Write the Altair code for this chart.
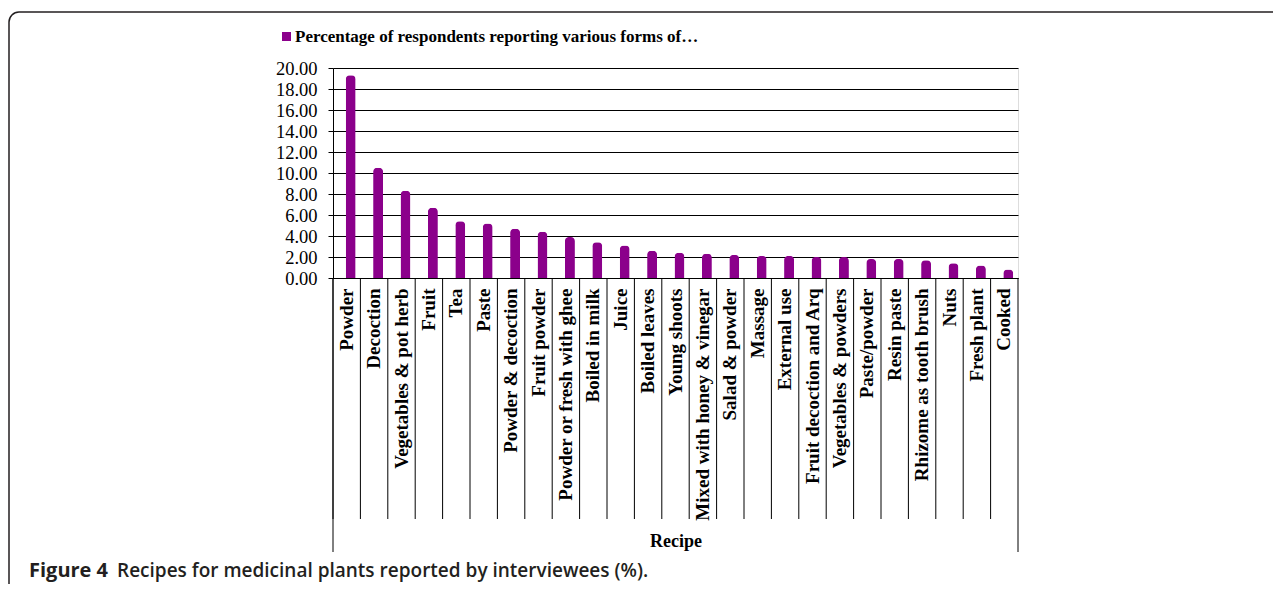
import altair as alt
import pandas as pd

recipes = ["Powder", "Decoction", "Vegetables & pot herb", "Fruit", "Tea", "Paste",
           "Powder & decoction", "Fruit powder", "Powder or fresh with ghee", "Boiled in milk",
           "Juice", "Boiled leaves", "Young shoots", "Mixed with honey & vinegar",
           "Salad & powder", "Massage", "External use", "Fruit decoction and Arq",
           "Vegetables & powders", "Paste/powder", "Resin paste", "Rhizome as tooth brush",
           "Nuts", "Fresh plant", "Cooked"]
percent = [19.3, 10.5, 8.3, 6.7, 5.4, 5.2, 4.7, 4.4, 3.9, 3.4, 3.1, 2.6, 2.4, 2.3,
           2.2, 2.1, 2.1, 2.0, 2.0, 1.8, 1.8, 1.7, 1.4, 1.2, 0.8]
series_name = "Percentage of respondents reporting various forms of\u2026"
y_ticks = [0, 2, 4, 6, 8, 10, 12, 14, 16, 18, 20]
x_title = "Recipe"
caption_bold = "Figure 4"
caption_rest = "Recipes for medicinal plants reported by interviewees (%)."

df = pd.DataFrame({"recipe": recipes, "value": percent, "series": series_name})

W, H = 685, 210
SERIF = "Liberation Serif"
PURPLE = "#8B008B"

xscale = alt.Scale(domain=recipes, paddingInner=0, paddingOuter=0)

bars = alt.Chart(df).mark_bar(width=10, xOffset=4, cornerRadiusTopLeft=4,
                              cornerRadiusTopRight=4).encode(
    x=alt.X("recipe:N", scale=xscale, sort=recipes,
            axis=alt.Axis(title=x_title, labelAngle=-90, labelFont=SERIF,
                          labelFontWeight="bold", labelFontSize=19, labelColor="#000",
                          labelPadding=10, labelLimit=400, ticks=False,
                          domainColor="#000", domainWidth=1,
                          titleFont=SERIF, titleFontWeight="bold", titleFontSize=18,
                          titleColor="#000", titleY=268, titleBaseline="alphabetic")),
    y=alt.Y("value:Q", scale=alt.Scale(domain=[0, 20], nice=False),
            axis=alt.Axis(title=None, values=y_ticks, format=".2f", labelFont=SERIF,
                          labelFontSize=18.5, labelColor="#000", tickSize=5,
                          tickColor="#000", labelPadding=11, domainColor="#000",
                          gridColor="#000", gridWidth=1.2, gridOpacity=1)),
    color=alt.Color("series:N", scale=alt.Scale(range=[PURPLE]),
                    legend=alt.Legend(title=None, orient="none", legendX=-55, legendY=-40,
                                      symbolType="square", symbolSize=81,
                                      symbolStrokeWidth=0, labelFont=SERIF,
                                      labelFontWeight="bold", labelFontSize=17,
                                      labelOffset=0,
                                      labelColor="#000", labelLimit=700, padding=0)),
)

seps = alt.Chart(df).mark_rule(color="#000", strokeWidth=1).encode(
    x=alt.X("recipe:N", scale=xscale, sort=recipes, bandPosition=0),
    y=alt.value(H),
    y2=alt.value(451),
)

frame_df = pd.DataFrame({"k": [0]})
outer_left = alt.Chart(frame_df).mark_rule(color="#000", strokeWidth=1).encode(
    x=alt.value(0), y=alt.value(H), y2=alt.value(484))
outer_right = alt.Chart(frame_df).mark_rule(color="#000", strokeWidth=1).encode(
    x=alt.value(W), y=alt.value(H), y2=alt.value(484))

border = alt.Chart(frame_df).mark_rect(fill=None, filled=False, stroke="#231f20",
                                       strokeWidth=1.5, cornerRadius=10).encode(
    x=alt.value(-324), x2=alt.value(1500), y=alt.value(-56), y2=alt.value(900))

cap1 = alt.Chart(frame_df).mark_text(text=caption_bold, font="Open Sans",
                                     fontWeight=700, fontSize=20, color="#231f20",
                                     align="left", baseline="alphabetic").encode(
    x=alt.value(-304), y=alt.value(509))
cap2 = alt.Chart(frame_df).mark_text(text=caption_rest, font="Open Sans",
                                     fontWeight=600, fontSize=19, color="#231f20",
                                     align="left", baseline="alphabetic").encode(
    x=alt.value(-216), y=alt.value(509))

chart = alt.layer(border, bars, seps, outer_left, outer_right, cap1, cap2).properties(
    width=W, height=H,
    autosize="none",
    padding={"left": 325, "top": 60, "right": 255, "bottom": 306},
).configure_view(stroke=None).configure(background="white")

chart.save("out.html", embed_options={"renderer": "svg", "actions": False})
